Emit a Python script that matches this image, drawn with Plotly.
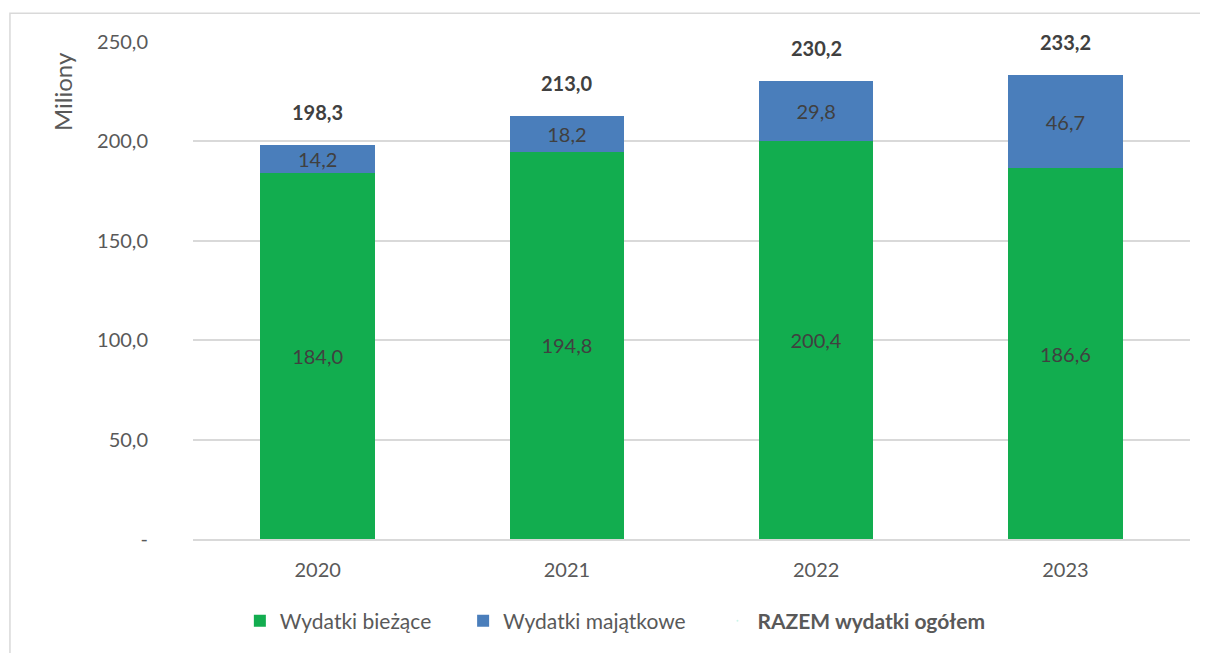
import plotly.graph_objects as go

years = ["2020", "2021", "2022", "2023"]
biezace = [184.0, 194.8, 200.4, 186.6]
majatkowe = [14.2, 18.2, 29.8, 46.7]
razem = [198.3, 213.0, 230.2, 233.2]

tick_vals = [0, 50, 100, 150, 200, 250]
tick_text = ["-", "50,0", "100,0", "150,0", "200,0", "250,0"]

FONT = "Lato"
GREEN = "#12AD4F"
BLUE = "#4A7EBB"
FS = 20
PAD = "\u00a0" * 5  # extra room between legend entries

fig = go.Figure()

# stacked bars
fig.add_trace(go.Bar(
    x=years, y=biezace, name="Wydatki bieżące" + PAD,
    marker=dict(color=GREEN, line=dict(width=0)),
    texttemplate="%{y:.1f}", textposition="inside", insidetextanchor="middle",
    textfont=dict(color="#404040", size=FS, family=FONT),
    constraintext="none", textangle=0))
fig.add_trace(go.Bar(
    x=years, y=majatkowe, name="Wydatki majątkowe" + PAD,
    marker=dict(color=BLUE, line=dict(width=0)),
    texttemplate="%{y:.1f}", textposition="inside", insidetextanchor="middle",
    textfont=dict(color="#404040", size=FS, family=FONT),
    constraintext="none", textangle=0))

# totals series - only a legend entry, labels as annotations
fig.add_trace(go.Scatter(
    x=years, y=razem, name="<b>RAZEM wydatki ogółem</b>",
    mode="markers", marker=dict(size=1, opacity=0),
    hoverinfo="skip"))

# "2020" etc. would be read as numbers on a category axis, so use the index
for i, tot in enumerate(razem):
    fig.add_annotation(
        x=i, y=tot, text="<b>" + f"{tot:.1f}".replace(".", ",") + "</b>",
        showarrow=False, yanchor="bottom", yshift=19,
        font=dict(size=FS, color="#404040", family=FONT))

# y axis title placed near the top like in the original
fig.add_annotation(
    xref="paper", yref="paper", x=-0.131, y=0.9,
    xanchor="center", yanchor="middle",
    text="Miliony", textangle=-90, showarrow=False,
    font=dict(size=24, color="#595959", family=FONT))

# outer chart frame
fig.add_shape(type="rect", xref="paper", yref="paper",
              x0=-0.1836, y0=-0.6, x1=1.2, y1=1.058,
              line=dict(color="#D9D9D9", width=1.5), layer="below")

# page body adds 8px, margins are shifted to compensate
fig.update_layout(
    width=1208, height=653,
    barmode="stack", bargap=0.54,
    separators=", ",
    plot_bgcolor="white", paper_bgcolor="white",
    font=dict(family=FONT, size=FS, color="#595959"),
    margin=dict(l=185, r=26, t=34, b=122),
    showlegend=True,
    legend=dict(orientation="h", x=0.047, xanchor="left", y=-0.165,
                yanchor="middle", font=dict(size=FS + 1, color="#595959"),
                traceorder="normal"),
)
fig.update_xaxes(type="category", range=[-0.5, 3.5], showgrid=False,
                 showline=True, linecolor="#D9D9D9", linewidth=1.5,
                 ticks="", ticklabelstandoff=12)
fig.update_yaxes(range=[0, 250], tickvals=tick_vals, ticktext=tick_text,
                 showgrid=True, gridcolor="#D9D9D9", gridwidth=1.5,
                 zeroline=False, ticks="", ticklabelstandoff=44)

fig.write_html("out.html")
